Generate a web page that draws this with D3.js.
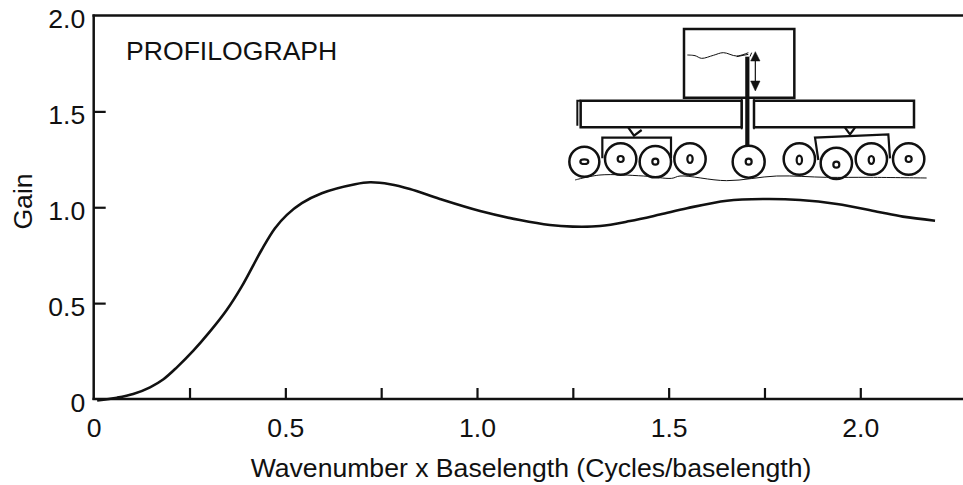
<!DOCTYPE html>
<html>
<head>
<meta charset="utf-8">
<script src="https://cdn.jsdelivr.net/npm/d3@7"></script>
<style>
html,body{margin:0;padding:0;background:#fff;}
svg{display:block;}
text{font-family:"Liberation Sans",Arial,sans-serif;fill:#111;}
</style>
</head>
<body>
<svg id="c" width="963" height="485"></svg>
<script>
// ---- data ----
const gainX = [0.009,0.061,0.103,0.147,0.182,0.217,0.260,0.303,0.347,0.386,0.438,0.473,0.504,0.543,0.595,0.682,0.721,0.773,0.825,0.903,1.008,1.112,1.190,1.250,1.321,1.399,1.477,1.548,1.652,1.746,1.843,1.939,2.044,2.111,2.195];
const gainY = [-0.008,0.007,0.026,0.061,0.103,0.165,0.252,0.351,0.464,0.586,0.777,0.890,0.960,1.021,1.073,1.120,1.130,1.120,1.095,1.043,0.980,0.933,0.907,0.899,0.902,0.928,0.962,0.995,1.034,1.043,1.038,1.017,0.977,0.951,0.930];
const xTicks = [0,0.25,0.5,0.75,1,1.25,1.5,1.75,2];
const xLabelled = [0,0.5,1,1.5,2];
const yTicks = [0,0.5,1,1.5,2];
const title = "PROFILOGRAPH";
const xTitle = "Wavenumber x Baselength (Cycles/baselength)";
const yTitle = "Gain";

const svg = d3.select("#c");
const x = d3.scaleLinear().domain([0,2]).range([93.7,860.3]);
const y = d3.scaleLinear().domain([0,2]).range([399,15.5]);
const ink = "#111";
const fontSize = 26.6;
const fmt = v => v === 0 ? "0" : d3.format(".1f")(v);

// frame lines
svg.append("line").attr("x1",92.5).attr("x2",963).attr("y1",y(2)).attr("y2",y(2)).attr("stroke",ink).attr("stroke-width",2.5);
svg.append("line").attr("x1",92.5).attr("x2",963).attr("y1",y(0)).attr("y2",y(0)).attr("stroke",ink).attr("stroke-width",2.5);

// axes
const gx = svg.append("g").attr("transform",`translate(0,${y(0)})`)
  .call(d3.axisBottom(x).tickValues(xTicks).tickSize(0)
    .tickFormat(v => xLabelled.includes(v) ? fmt(v) : ""));
gx.select(".domain").remove();
gx.selectAll(".tick line").attr("y2",-11).attr("stroke",ink).attr("stroke-width",2.2);
gx.selectAll(".tick").filter(d => d === 0).select("line").remove();
gx.selectAll("text").attr("font-size",fontSize).attr("fill",ink).attr("y",38).attr("dy",0)
  .attr("font-family","Liberation Sans");

const gy = svg.append("g").attr("transform",`translate(${x(0)},0)`)
  .call(d3.axisLeft(y).tickValues(yTicks).tickSize(0).tickFormat(fmt));
gy.select(".domain").remove();
gy.selectAll(".tick line").attr("x2",12).attr("stroke",ink).attr("stroke-width",2.2);
gy.selectAll(".tick").filter(d => d === 0 || d === 2).select("line").remove();
gy.selectAll("text").attr("font-size",fontSize).attr("fill",ink).attr("x",-8.5).attr("dy",12)
  .attr("font-family","Liberation Sans");
svg.append("line").attr("x1",x(0)).attr("x2",x(0)).attr("y1",y(2)-1).attr("y2",y(0)+1).attr("stroke",ink).attr("stroke-width",2.5);

// axis titles
svg.append("text").attr("x",531).attr("y",477).attr("text-anchor","middle").attr("font-size",fontSize).text(xTitle);
svg.append("text").attr("transform","translate(32,201.5) rotate(-90)").attr("text-anchor","middle").attr("font-size",fontSize).text(yTitle);
svg.append("text").attr("x",126).attr("y",59.5).attr("font-size",fontSize).text(title);

// curve
const line = d3.line().x(d => x(d[0])).y(d => y(d[1])).curve(d3.curveCatmullRom.alpha(0.5));
svg.append("path").datum(d3.zip(gainX,gainY)).attr("d",line)
  .attr("fill","none").attr("stroke",ink).attr("stroke-width",2.6);

// ---- profilograph sketch (decoration, drawn in a 3x local space) ----
const sx = d3.scaleLinear().domain([0,3]).range([560,561]);
const sy = d3.scaleLinear().domain([0,3]).range([15,16]);
const sk = svg.append("g").attr("fill","none").attr("stroke",ink);
const poly = (pts,w,fill,closed) => sk.append("path")
  .attr("d",(d3.line().x(p=>sx(p[0])).y(p=>sy(p[1]))(pts))+(closed?"Z":""))
  .attr("stroke-width",w).attr("fill",fill||"none");
const rect = (a,b,c,d,w) => poly([[a,b],[c,b],[c,d],[a,d]],w,"#fff",true);
const smooth = (pts,w) => sk.append("path")
  .attr("d",d3.line().x(p=>sx(p[0])).y(p=>sy(p[1])).curve(d3.curveCatmullRom)(pts))
  .attr("stroke-width",w);

rect(372,42,703,248,2.5);
rect(62,257,545,337,2.5);
poly([[52,332],[52,257],[62,257]],2);
rect(582,257,1062,337,2.5);
poly([[205,338],[222,362],[245,345]],2.2);
poly([[855,338],[870,358],[885,338]],2.2);
poly([[127,430],[127,368],[333,368],[333,430]],2.2);
poly([[775,435],[765,368],[985,358],[990,430]],2.2);

const wheels = [[73,440,45],[182,432,47],[286,440,47],[390,432,47],[566,440,48],[718,432,47],[829,445,47],[934,432,47],[1046,432,47]];
const hubs = [[73,440,12,7],[182,432,9,9],[286,440,9,9],[390,432,8,12],[566,440,9,9],[718,435,8,13],[829,449,9,9],[934,435,8,12],[1046,432,9,9]];
wheels.forEach(w => sk.append("circle").attr("cx",sx(w[0])).attr("cy",sy(w[1])).attr("r",w[2]/3).attr("fill","#fff").attr("stroke-width",2.5));
hubs.forEach(h => sk.append("ellipse").attr("cx",sx(h[0])).attr("cy",sy(h[1])).attr("rx",h[2]/3).attr("ry",h[3]/3).attr("stroke-width",2.2));

poly([[562,125],[562,392]],4.2);
poly([[545,250],[545,343]],1.6);
poly([[582,250],[582,343]],1.6);

smooth([[45,495],[120,480],[250,483],[335,490],[360,483],[500,497],[650,483],[800,487],[930,487],[1100,489]],1);
smooth([[382,120],[405,122],[425,130],[460,121],[490,113],[530,123],[565,113]],1);
poly([[530,125],[565,118]],1);
poly([[570,125],[575,113]],1);

poly([[586,135],[586,200]],1.2);
poly([[586,110],[572,138],[600,138]],0.5,ink,true);
poly([[586,228],[572,198],[600,198]],0.5,ink,true);
</script>
</body>
</html>
